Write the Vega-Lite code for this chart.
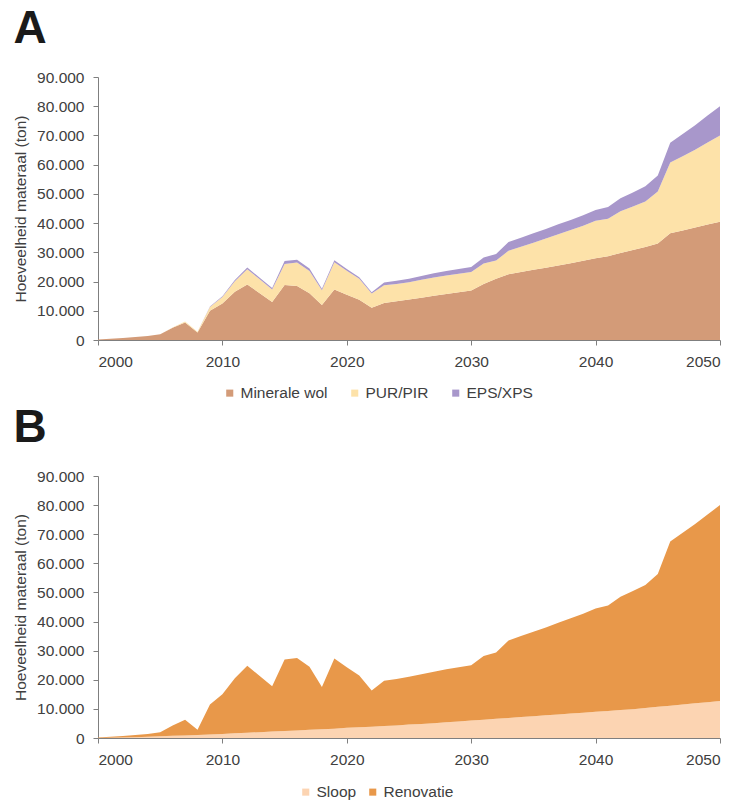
{
  "$schema": "https://vega.github.io/schema/vega-lite/v6.json",
  "background": "white",
  "padding": {"left": 13, "top": 6, "right": 12, "bottom": 2},
  "spacing": 3,
  "resolve": {"scale": {"color": "independent"}, "legend": {"color": "independent"}},
  "config": {
    "locale": {"number": {"decimal": ",", "thousands": ".", "grouping": [3], "currency": ["€", ""]}},
    "font": "Liberation Sans",
    "view": {"stroke": null},
    "axis": {
      "grid": false,
      "domainColor": "#7f7f7f",
      "tickColor": "#7f7f7f",
      "tickSize": 5,
      "labelColor": "#404040",
      "labelFontSize": 15.5,
      "titleColor": "#404040",
      "titleFontSize": 15.5,
      "titleFontWeight": "normal"
    },
    "axisY": {"labelPadding": 9, "titlePadding": 8},
    "axisX": {"labelPadding": 9},
    "legend": {
      "orient": "none",
      "direction": "horizontal",
      "title": null,
      "symbolType": "square",
      "symbolSize": 50,
      "symbolStrokeWidth": 0,
      "labelFontSize": 15.5,
      "labelColor": "#404040",
      "labelOffset": 3,
      "columnPadding": 19
    },
    "title": {"anchor": "start", "frame": "bounds", "fontSize": 46, "fontWeight": "bold", "color": "#1a1a1a", "offset": 17}
  },
  "datasets": {
    "isolatie": [
      {"jaar": 2000, "soort": "Minerale wol", "ton": 200}, {"jaar": 2000, "soort": "PUR/PIR", "ton": 0}, {"jaar": 2000, "soort": "EPS/XPS", "ton": 0},
      {"jaar": 2001, "soort": "Minerale wol", "ton": 400}, {"jaar": 2001, "soort": "PUR/PIR", "ton": 0}, {"jaar": 2001, "soort": "EPS/XPS", "ton": 0},
      {"jaar": 2002, "soort": "Minerale wol", "ton": 700}, {"jaar": 2002, "soort": "PUR/PIR", "ton": 0}, {"jaar": 2002, "soort": "EPS/XPS", "ton": 0},
      {"jaar": 2003, "soort": "Minerale wol", "ton": 1000}, {"jaar": 2003, "soort": "PUR/PIR", "ton": 0}, {"jaar": 2003, "soort": "EPS/XPS", "ton": 0},
      {"jaar": 2004, "soort": "Minerale wol", "ton": 1400}, {"jaar": 2004, "soort": "PUR/PIR", "ton": 0}, {"jaar": 2004, "soort": "EPS/XPS", "ton": 0},
      {"jaar": 2005, "soort": "Minerale wol", "ton": 2000}, {"jaar": 2005, "soort": "PUR/PIR", "ton": 0}, {"jaar": 2005, "soort": "EPS/XPS", "ton": 0},
      {"jaar": 2006, "soort": "Minerale wol", "ton": 4200}, {"jaar": 2006, "soort": "PUR/PIR", "ton": 100}, {"jaar": 2006, "soort": "EPS/XPS", "ton": 0},
      {"jaar": 2007, "soort": "Minerale wol", "ton": 6000}, {"jaar": 2007, "soort": "PUR/PIR", "ton": 300}, {"jaar": 2007, "soort": "EPS/XPS", "ton": 0},
      {"jaar": 2008, "soort": "Minerale wol", "ton": 2600}, {"jaar": 2008, "soort": "PUR/PIR", "ton": 200}, {"jaar": 2008, "soort": "EPS/XPS", "ton": 0},
      {"jaar": 2009, "soort": "Minerale wol", "ton": 10000}, {"jaar": 2009, "soort": "PUR/PIR", "ton": 1300}, {"jaar": 2009, "soort": "EPS/XPS", "ton": 200},
      {"jaar": 2010, "soort": "Minerale wol", "ton": 12500}, {"jaar": 2010, "soort": "PUR/PIR", "ton": 2200}, {"jaar": 2010, "soort": "EPS/XPS", "ton": 300},
      {"jaar": 2011, "soort": "Minerale wol", "ton": 16500}, {"jaar": 2011, "soort": "PUR/PIR", "ton": 3600}, {"jaar": 2011, "soort": "EPS/XPS", "ton": 400},
      {"jaar": 2012, "soort": "Minerale wol", "ton": 19000}, {"jaar": 2012, "soort": "PUR/PIR", "ton": 5200}, {"jaar": 2012, "soort": "EPS/XPS", "ton": 600},
      {"jaar": 2013, "soort": "Minerale wol", "ton": 16000}, {"jaar": 2013, "soort": "PUR/PIR", "ton": 4800}, {"jaar": 2013, "soort": "EPS/XPS", "ton": 500},
      {"jaar": 2014, "soort": "Minerale wol", "ton": 13000}, {"jaar": 2014, "soort": "PUR/PIR", "ton": 4300}, {"jaar": 2014, "soort": "EPS/XPS", "ton": 500},
      {"jaar": 2015, "soort": "Minerale wol", "ton": 18800}, {"jaar": 2015, "soort": "PUR/PIR", "ton": 7200}, {"jaar": 2015, "soort": "EPS/XPS", "ton": 1000},
      {"jaar": 2016, "soort": "Minerale wol", "ton": 18500}, {"jaar": 2016, "soort": "PUR/PIR", "ton": 8000}, {"jaar": 2016, "soort": "EPS/XPS", "ton": 1000},
      {"jaar": 2017, "soort": "Minerale wol", "ton": 16000}, {"jaar": 2017, "soort": "PUR/PIR", "ton": 7600}, {"jaar": 2017, "soort": "EPS/XPS", "ton": 900},
      {"jaar": 2018, "soort": "Minerale wol", "ton": 12000}, {"jaar": 2018, "soort": "PUR/PIR", "ton": 5000}, {"jaar": 2018, "soort": "EPS/XPS", "ton": 500},
      {"jaar": 2019, "soort": "Minerale wol", "ton": 17300}, {"jaar": 2019, "soort": "PUR/PIR", "ton": 9300}, {"jaar": 2019, "soort": "EPS/XPS", "ton": 700},
      {"jaar": 2020, "soort": "Minerale wol", "ton": 15500}, {"jaar": 2020, "soort": "PUR/PIR", "ton": 8200}, {"jaar": 2020, "soort": "EPS/XPS", "ton": 600},
      {"jaar": 2021, "soort": "Minerale wol", "ton": 13800}, {"jaar": 2021, "soort": "PUR/PIR", "ton": 7200}, {"jaar": 2021, "soort": "EPS/XPS", "ton": 500},
      {"jaar": 2022, "soort": "Minerale wol", "ton": 11000}, {"jaar": 2022, "soort": "PUR/PIR", "ton": 4900}, {"jaar": 2022, "soort": "EPS/XPS", "ton": 400},
      {"jaar": 2023, "soort": "Minerale wol", "ton": 12700}, {"jaar": 2023, "soort": "PUR/PIR", "ton": 6000}, {"jaar": 2023, "soort": "EPS/XPS", "ton": 1000},
      {"jaar": 2024, "soort": "Minerale wol", "ton": 13300}, {"jaar": 2024, "soort": "PUR/PIR", "ton": 5900}, {"jaar": 2024, "soort": "EPS/XPS", "ton": 1100},
      {"jaar": 2025, "soort": "Minerale wol", "ton": 13900}, {"jaar": 2025, "soort": "PUR/PIR", "ton": 5900}, {"jaar": 2025, "soort": "EPS/XPS", "ton": 1200},
      {"jaar": 2026, "soort": "Minerale wol", "ton": 14500}, {"jaar": 2026, "soort": "PUR/PIR", "ton": 6100}, {"jaar": 2026, "soort": "EPS/XPS", "ton": 1300},
      {"jaar": 2027, "soort": "Minerale wol", "ton": 15100}, {"jaar": 2027, "soort": "PUR/PIR", "ton": 6300}, {"jaar": 2027, "soort": "EPS/XPS", "ton": 1400},
      {"jaar": 2028, "soort": "Minerale wol", "ton": 15700}, {"jaar": 2028, "soort": "PUR/PIR", "ton": 6400}, {"jaar": 2028, "soort": "EPS/XPS", "ton": 1500},
      {"jaar": 2029, "soort": "Minerale wol", "ton": 16300}, {"jaar": 2029, "soort": "PUR/PIR", "ton": 6400}, {"jaar": 2029, "soort": "EPS/XPS", "ton": 1600},
      {"jaar": 2030, "soort": "Minerale wol", "ton": 16900}, {"jaar": 2030, "soort": "PUR/PIR", "ton": 6400}, {"jaar": 2030, "soort": "EPS/XPS", "ton": 1700},
      {"jaar": 2031, "soort": "Minerale wol", "ton": 19200}, {"jaar": 2031, "soort": "PUR/PIR", "ton": 7000}, {"jaar": 2031, "soort": "EPS/XPS", "ton": 2000},
      {"jaar": 2032, "soort": "Minerale wol", "ton": 21000}, {"jaar": 2032, "soort": "PUR/PIR", "ton": 6200}, {"jaar": 2032, "soort": "EPS/XPS", "ton": 2200},
      {"jaar": 2033, "soort": "Minerale wol", "ton": 22500}, {"jaar": 2033, "soort": "PUR/PIR", "ton": 8000}, {"jaar": 2033, "soort": "EPS/XPS", "ton": 3000},
      {"jaar": 2034, "soort": "Minerale wol", "ton": 23300}, {"jaar": 2034, "soort": "PUR/PIR", "ton": 8600}, {"jaar": 2034, "soort": "EPS/XPS", "ton": 3100},
      {"jaar": 2035, "soort": "Minerale wol", "ton": 24000}, {"jaar": 2035, "soort": "PUR/PIR", "ton": 9300}, {"jaar": 2035, "soort": "EPS/XPS", "ton": 3200},
      {"jaar": 2036, "soort": "Minerale wol", "ton": 24700}, {"jaar": 2036, "soort": "PUR/PIR", "ton": 10000}, {"jaar": 2036, "soort": "EPS/XPS", "ton": 3300},
      {"jaar": 2037, "soort": "Minerale wol", "ton": 25500}, {"jaar": 2037, "soort": "PUR/PIR", "ton": 10700}, {"jaar": 2037, "soort": "EPS/XPS", "ton": 3400},
      {"jaar": 2038, "soort": "Minerale wol", "ton": 26300}, {"jaar": 2038, "soort": "PUR/PIR", "ton": 11300}, {"jaar": 2038, "soort": "EPS/XPS", "ton": 3500},
      {"jaar": 2039, "soort": "Minerale wol", "ton": 27100}, {"jaar": 2039, "soort": "PUR/PIR", "ton": 12000}, {"jaar": 2039, "soort": "EPS/XPS", "ton": 3600},
      {"jaar": 2040, "soort": "Minerale wol", "ton": 28000}, {"jaar": 2040, "soort": "PUR/PIR", "ton": 12800}, {"jaar": 2040, "soort": "EPS/XPS", "ton": 3700},
      {"jaar": 2041, "soort": "Minerale wol", "ton": 28700}, {"jaar": 2041, "soort": "PUR/PIR", "ton": 12800}, {"jaar": 2041, "soort": "EPS/XPS", "ton": 4000},
      {"jaar": 2042, "soort": "Minerale wol", "ton": 29800}, {"jaar": 2042, "soort": "PUR/PIR", "ton": 14300}, {"jaar": 2042, "soort": "EPS/XPS", "ton": 4400},
      {"jaar": 2043, "soort": "Minerale wol", "ton": 30800}, {"jaar": 2043, "soort": "PUR/PIR", "ton": 14900}, {"jaar": 2043, "soort": "EPS/XPS", "ton": 4800},
      {"jaar": 2044, "soort": "Minerale wol", "ton": 31800}, {"jaar": 2044, "soort": "PUR/PIR", "ton": 15600}, {"jaar": 2044, "soort": "EPS/XPS", "ton": 5200},
      {"jaar": 2045, "soort": "Minerale wol", "ton": 33000}, {"jaar": 2045, "soort": "PUR/PIR", "ton": 17800}, {"jaar": 2045, "soort": "EPS/XPS", "ton": 5500},
      {"jaar": 2046, "soort": "Minerale wol", "ton": 36500}, {"jaar": 2046, "soort": "PUR/PIR", "ton": 24200}, {"jaar": 2046, "soort": "EPS/XPS", "ton": 6800},
      {"jaar": 2047, "soort": "Minerale wol", "ton": 37500}, {"jaar": 2047, "soort": "PUR/PIR", "ton": 25400}, {"jaar": 2047, "soort": "EPS/XPS", "ton": 7600},
      {"jaar": 2048, "soort": "Minerale wol", "ton": 38500}, {"jaar": 2048, "soort": "PUR/PIR", "ton": 26600}, {"jaar": 2048, "soort": "EPS/XPS", "ton": 8400},
      {"jaar": 2049, "soort": "Minerale wol", "ton": 39500}, {"jaar": 2049, "soort": "PUR/PIR", "ton": 28100}, {"jaar": 2049, "soort": "EPS/XPS", "ton": 9200},
      {"jaar": 2050, "soort": "Minerale wol", "ton": 40500}, {"jaar": 2050, "soort": "PUR/PIR", "ton": 29500}, {"jaar": 2050, "soort": "EPS/XPS", "ton": 10000}
    ],
    "herkomst": [
      {"jaar": 2000, "bron": "Sloop", "ton": 0}, {"jaar": 2000, "bron": "Renovatie", "ton": 200},
      {"jaar": 2001, "bron": "Sloop", "ton": 100}, {"jaar": 2001, "bron": "Renovatie", "ton": 300},
      {"jaar": 2002, "bron": "Sloop", "ton": 200}, {"jaar": 2002, "bron": "Renovatie", "ton": 500},
      {"jaar": 2003, "bron": "Sloop", "ton": 300}, {"jaar": 2003, "bron": "Renovatie", "ton": 700},
      {"jaar": 2004, "bron": "Sloop", "ton": 450}, {"jaar": 2004, "bron": "Renovatie", "ton": 950},
      {"jaar": 2005, "bron": "Sloop", "ton": 600}, {"jaar": 2005, "bron": "Renovatie", "ton": 1400},
      {"jaar": 2006, "bron": "Sloop", "ton": 750}, {"jaar": 2006, "bron": "Renovatie", "ton": 3550},
      {"jaar": 2007, "bron": "Sloop", "ton": 900}, {"jaar": 2007, "bron": "Renovatie", "ton": 5400},
      {"jaar": 2008, "bron": "Sloop", "ton": 1050}, {"jaar": 2008, "bron": "Renovatie", "ton": 1750},
      {"jaar": 2009, "bron": "Sloop", "ton": 1200}, {"jaar": 2009, "bron": "Renovatie", "ton": 10300},
      {"jaar": 2010, "bron": "Sloop", "ton": 1400}, {"jaar": 2010, "bron": "Renovatie", "ton": 13600},
      {"jaar": 2011, "bron": "Sloop", "ton": 1600}, {"jaar": 2011, "bron": "Renovatie", "ton": 18900},
      {"jaar": 2012, "bron": "Sloop", "ton": 1800}, {"jaar": 2012, "bron": "Renovatie", "ton": 23000},
      {"jaar": 2013, "bron": "Sloop", "ton": 2000}, {"jaar": 2013, "bron": "Renovatie", "ton": 19300},
      {"jaar": 2014, "bron": "Sloop", "ton": 2200}, {"jaar": 2014, "bron": "Renovatie", "ton": 15600},
      {"jaar": 2015, "bron": "Sloop", "ton": 2400}, {"jaar": 2015, "bron": "Renovatie", "ton": 24600},
      {"jaar": 2016, "bron": "Sloop", "ton": 2600}, {"jaar": 2016, "bron": "Renovatie", "ton": 24900},
      {"jaar": 2017, "bron": "Sloop", "ton": 2800}, {"jaar": 2017, "bron": "Renovatie", "ton": 21700},
      {"jaar": 2018, "bron": "Sloop", "ton": 3000}, {"jaar": 2018, "bron": "Renovatie", "ton": 14500},
      {"jaar": 2019, "bron": "Sloop", "ton": 3200}, {"jaar": 2019, "bron": "Renovatie", "ton": 24100},
      {"jaar": 2020, "bron": "Sloop", "ton": 3500}, {"jaar": 2020, "bron": "Renovatie", "ton": 20800},
      {"jaar": 2021, "bron": "Sloop", "ton": 3700}, {"jaar": 2021, "bron": "Renovatie", "ton": 17800},
      {"jaar": 2022, "bron": "Sloop", "ton": 3900}, {"jaar": 2022, "bron": "Renovatie", "ton": 12400},
      {"jaar": 2023, "bron": "Sloop", "ton": 4100}, {"jaar": 2023, "bron": "Renovatie", "ton": 15600},
      {"jaar": 2024, "bron": "Sloop", "ton": 4300}, {"jaar": 2024, "bron": "Renovatie", "ton": 16000},
      {"jaar": 2025, "bron": "Sloop", "ton": 4600}, {"jaar": 2025, "bron": "Renovatie", "ton": 16400},
      {"jaar": 2026, "bron": "Sloop", "ton": 4800}, {"jaar": 2026, "bron": "Renovatie", "ton": 17100},
      {"jaar": 2027, "bron": "Sloop", "ton": 5100}, {"jaar": 2027, "bron": "Renovatie", "ton": 17700},
      {"jaar": 2028, "bron": "Sloop", "ton": 5400}, {"jaar": 2028, "bron": "Renovatie", "ton": 18200},
      {"jaar": 2029, "bron": "Sloop", "ton": 5700}, {"jaar": 2029, "bron": "Renovatie", "ton": 18600},
      {"jaar": 2030, "bron": "Sloop", "ton": 6000}, {"jaar": 2030, "bron": "Renovatie", "ton": 19000},
      {"jaar": 2031, "bron": "Sloop", "ton": 6300}, {"jaar": 2031, "bron": "Renovatie", "ton": 21900},
      {"jaar": 2032, "bron": "Sloop", "ton": 6600}, {"jaar": 2032, "bron": "Renovatie", "ton": 22800},
      {"jaar": 2033, "bron": "Sloop", "ton": 6900}, {"jaar": 2033, "bron": "Renovatie", "ton": 26600},
      {"jaar": 2034, "bron": "Sloop", "ton": 7200}, {"jaar": 2034, "bron": "Renovatie", "ton": 27800},
      {"jaar": 2035, "bron": "Sloop", "ton": 7500}, {"jaar": 2035, "bron": "Renovatie", "ton": 29000},
      {"jaar": 2036, "bron": "Sloop", "ton": 7800}, {"jaar": 2036, "bron": "Renovatie", "ton": 30200},
      {"jaar": 2037, "bron": "Sloop", "ton": 8100}, {"jaar": 2037, "bron": "Renovatie", "ton": 31500},
      {"jaar": 2038, "bron": "Sloop", "ton": 8400}, {"jaar": 2038, "bron": "Renovatie", "ton": 32700},
      {"jaar": 2039, "bron": "Sloop", "ton": 8700}, {"jaar": 2039, "bron": "Renovatie", "ton": 34000},
      {"jaar": 2040, "bron": "Sloop", "ton": 9000}, {"jaar": 2040, "bron": "Renovatie", "ton": 35500},
      {"jaar": 2041, "bron": "Sloop", "ton": 9300}, {"jaar": 2041, "bron": "Renovatie", "ton": 36200},
      {"jaar": 2042, "bron": "Sloop", "ton": 9600}, {"jaar": 2042, "bron": "Renovatie", "ton": 38900},
      {"jaar": 2043, "bron": "Sloop", "ton": 9900}, {"jaar": 2043, "bron": "Renovatie", "ton": 40600},
      {"jaar": 2044, "bron": "Sloop", "ton": 10300}, {"jaar": 2044, "bron": "Renovatie", "ton": 42300},
      {"jaar": 2045, "bron": "Sloop", "ton": 10700}, {"jaar": 2045, "bron": "Renovatie", "ton": 45600},
      {"jaar": 2046, "bron": "Sloop", "ton": 11100}, {"jaar": 2046, "bron": "Renovatie", "ton": 56400},
      {"jaar": 2047, "bron": "Sloop", "ton": 11500}, {"jaar": 2047, "bron": "Renovatie", "ton": 59000},
      {"jaar": 2048, "bron": "Sloop", "ton": 11900}, {"jaar": 2048, "bron": "Renovatie", "ton": 61600},
      {"jaar": 2049, "bron": "Sloop", "ton": 12300}, {"jaar": 2049, "bron": "Renovatie", "ton": 64500},
      {"jaar": 2050, "bron": "Sloop", "ton": 12700}, {"jaar": 2050, "bron": "Renovatie", "ton": 67300}
    ]
  },
  "vconcat": [
    {
      "title": {"text": "A"},
      "width": 622,
      "height": 263,
      "data": {"name": "isolatie"},
      "transform": [
        {"calculate": "indexof(['Minerale wol', 'PUR/PIR', 'EPS/XPS'], datum.soort)", "as": "laag"}
      ],
      "mark": {"type": "area", "interpolate": "linear"},
      "encoding": {
        "x": {
          "field": "jaar", "type": "quantitative",
          "scale": {"domain": [2000, 2050], "nice": false, "zero": false},
          "axis": {"values": [2000, 2010, 2020, 2030, 2040, 2050], "format": "d", "title": null}
        },
        "y": {
          "field": "ton", "type": "quantitative", "stack": "zero",
          "scale": {"domain": [0, 90000], "nice": false},
          "axis": {"values": [0, 10000, 20000, 30000, 40000, 50000, 60000, 70000, 80000, 90000], "format": ",d", "title": "Hoeveelheid materaal (ton)"}
        },
        "order": {"field": "laag", "type": "quantitative", "sort": "ascending"},
        "color": {
          "field": "soort", "type": "nominal",
          "sort": ["Minerale wol", "PUR/PIR", "EPS/XPS"],
          "scale": {"domain": ["Minerale wol", "PUR/PIR", "EPS/XPS"], "range": ["#d39b78", "#fde2a9", "#a897cb"]},
          "legend": {"legendX": 124, "legendY": 308}
        }
      }
    },
    {
      "title": {"text": "B"},
      "width": 622,
      "height": 262,
      "data": {"name": "herkomst"},
      "mark": {"type": "area", "interpolate": "linear"},
      "encoding": {
        "x": {
          "field": "jaar", "type": "quantitative",
          "scale": {"domain": [2000, 2050], "nice": false, "zero": false},
          "axis": {"values": [2000, 2010, 2020, 2030, 2040, 2050], "format": "d", "title": null}
        },
        "y": {
          "field": "ton", "type": "quantitative", "stack": "zero",
          "scale": {"domain": [0, 90000], "nice": false},
          "axis": {"values": [0, 10000, 20000, 30000, 40000, 50000, 60000, 70000, 80000, 90000], "format": ",d", "title": "Hoeveelheid materaal (ton)"}
        },
        "color": {
          "field": "bron", "type": "nominal",
          "sort": ["Sloop", "Renovatie"],
          "scale": {"domain": ["Sloop", "Renovatie"], "range": ["#fcd4b2", "#e8984a"]},
          "legend": {"legendX": 200, "legendY": 308, "columnPadding": 8}
        }
      }
    }
  ]
}
